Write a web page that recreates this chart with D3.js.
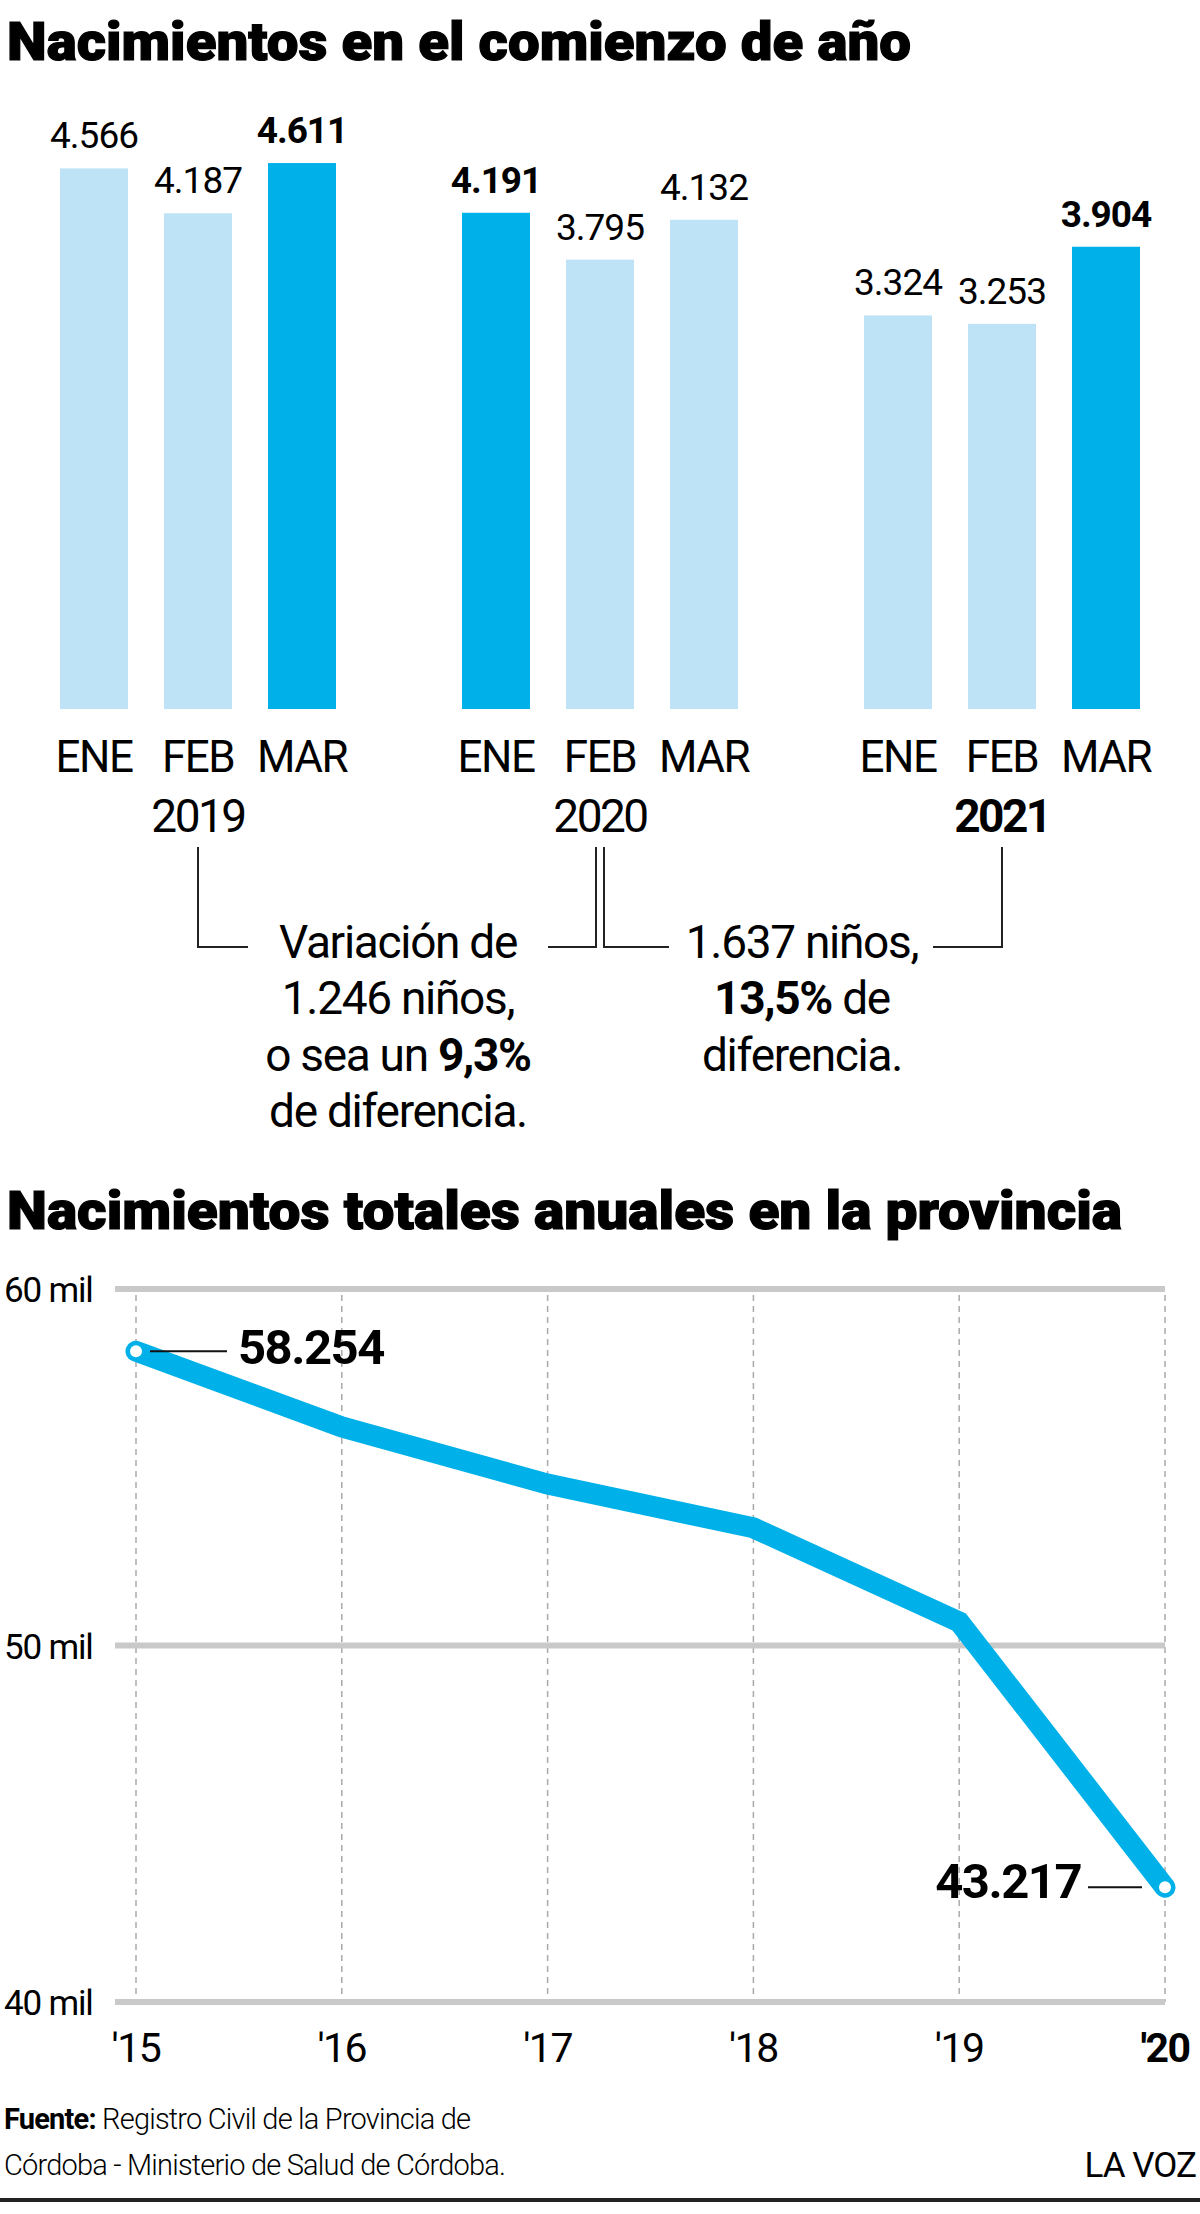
<!DOCTYPE html>
<html>
<head>
<meta charset="utf-8">
<script src="https://cdn.jsdelivr.net/npm/d3@7"></script>
<style>
  body { margin: 0; background: #fff; }
  svg { display: block; font-family: Roboto, "Noto Sans", sans-serif; }
</style>
</head>
<body>
<svg id="grafico" width="1200" height="2214"></svg>
<script>
// Datos: nacimientos por mes (primer trimestre)
var anios = ["2019", "2020", "2021"];
var meses = ["ENE", "FEB", "MAR"];
var nac2019 = [4566, 4187, 4611];
var nac2020 = [4191, 3795, 4132];
var nac2021 = [3324, 3253, 3904];
var destacados = [[2], [0], [2]]; // barras en azul fuerte

// Datos: nacimientos totales anuales
var aniosTot = ["'15", "'16", "'17", "'18", "'19", "'20"];
var nacTotales = [58254, 56130, 54530, 53300, 50660, 43217];
var ticksY = [40000, 50000, 60000];

var azul = "#00b1e9";
var celeste = "#bee3f7";

var svg = d3.select("#grafico");

// ---------- Titulo 1
svg.append("text")
  .attr("x", 7).attr("y", 60)
  .attr("font-size", 54).attr("font-weight", 900)
  .attr("stroke", "#000").attr("stroke-width", 1.2)
  .attr("textLength", 904).attr("lengthAdjust", "spacingAndGlyphs")
  .text("Nacimientos en el comienzo de año");

// ---------- Barras
var filas = anios.map(function (a, i) {
  return { anio: a, valores: [nac2019, nac2020, nac2021][i], dest: destacados[i] };
});

var x0 = d3.scaleBand().domain(anios).range([60, 1140]).paddingInner(0.3134).paddingOuter(0);
var x1 = d3.scaleBand().domain(meses).range([0, x0.bandwidth()]).paddingInner(0.346).paddingOuter(0);
var y = d3.scaleLinear().domain([0, 5000]).range([709, 117]);

var grupos = svg.selectAll(".grupo")
  .data(filas)
  .enter().append("g")
  .attr("class", "grupo")
  .attr("transform", function (d) { return "translate(" + x0(d.anio) + ",0)"; });

var celdas = grupos.selectAll(".mes")
  .data(function (d) {
    return meses.map(function (m, j) {
      return { mes: m, valor: d.valores[j], dest: d.dest.indexOf(j) >= 0 };
    });
  })
  .enter().append("g").attr("class", "mes");

celdas.append("rect")
  .attr("x", function (d) { return x1(d.mes); })
  .attr("y", function (d) { return y(d.valor); })
  .attr("width", x1.bandwidth())
  .attr("height", function (d) { return y(0) - y(d.valor); })
  .attr("fill", function (d) { return d.dest ? azul : celeste; });

celdas.append("text")
  .attr("x", function (d) { return x1(d.mes) + x1.bandwidth() / 2; })
  .attr("y", function (d) { return y(d.valor) - 20; })
  .attr("text-anchor", "middle")
  .attr("font-size", 37)
  .attr("font-weight", function (d) { return d.dest ? 700 : 400; })
  .attr("letter-spacing", -1)
  .text(function (d) { return d3.format(",")(d.valor).replace(",", "."); });

celdas.append("text")
  .attr("x", function (d) { return x1(d.mes) + x1.bandwidth() / 2; })
  .attr("y", 772)
  .attr("text-anchor", "middle")
  .attr("font-size", 44)
  .attr("letter-spacing", -1.5)
  .text(function (d) { return d.mes; });

grupos.append("text")
  .attr("x", x1("FEB") + x1.bandwidth() / 2)
  .attr("y", 832)
  .attr("text-anchor", "middle")
  .attr("font-size", 46)
  .attr("letter-spacing", -2.5)
  .attr("font-weight", function (d) { return d.anio === "2021" ? 700 : 400; })
  .text(function (d) { return d.anio; });

// ---------- Llaves de comparacion
var cx = function (a) { return x0(a) + x1("FEB") + x1.bandwidth() / 2; };
var yTop = 847, yLow = 947;
var llaves = [
  { desde: cx("2019"), hasta: cx("2020") - 4, izq: 248, der: 548 },
  { desde: cx("2020") + 4, hasta: cx("2021"), izq: 669, der: 933 }
];
llaves.forEach(function (l) {
  svg.append("path")
    .attr("d", "M" + l.desde + "," + yTop + "V" + yLow + "H" + l.izq +
      "M" + l.der + "," + yLow + "H" + l.hasta + "V" + yTop)
    .attr("fill", "none").attr("stroke", "#222").attr("stroke-width", 2);
});

var notas = [
  { x: 398, lineas: [[["Variación de", 0]], [["1.246 niños,", 0]], [["o sea un ", 0], ["9,3%", 1]], [["de diferencia.", 0]]] },
  { x: 802, lineas: [[["1.637 niños,", 0]], [["13,5%", 1], [" de", 0]], [["diferencia.", 0]]] }
];
notas.forEach(function (n) {
  n.lineas.forEach(function (linea, i) {
    var t = svg.append("text")
      .attr("x", n.x).attr("y", 958 + i * 56.3)
      .attr("text-anchor", "middle")
      .attr("font-size", 46)
      .attr("letter-spacing", -1.3);
    linea.forEach(function (s) {
      t.append("tspan").attr("font-weight", s[1] ? 700 : 400).text(s[0]);
    });
  });
});

// ---------- Titulo 2
svg.append("text")
  .attr("x", 7).attr("y", 1229)
  .attr("font-size", 54).attr("font-weight", 900)
  .attr("stroke", "#000").attr("stroke-width", 1.2)
  .attr("textLength", 1115).attr("lengthAdjust", "spacingAndGlyphs")
  .text("Nacimientos totales anuales en la provincia");

// ---------- Linea
var xl = d3.scalePoint().domain(aniosTot).range([136, 1165]);
var yl = d3.scaleLinear().domain([40000, 60000]).range([2002, 1289]);

svg.selectAll(".vguia")
  .data(aniosTot)
  .enter().append("line")
  .attr("class", "vguia")
  .attr("x1", function (d) { return xl(d); })
  .attr("x2", function (d) { return xl(d); })
  .attr("y1", yl(60000) + 6).attr("y2", yl(40000))
  .attr("stroke", "#aaa").attr("stroke-width", 1.5)
  .attr("stroke-dasharray", "6,5");

svg.selectAll(".hguia")
  .data(ticksY)
  .enter().append("line")
  .attr("class", "hguia")
  .attr("x1", 115).attr("x2", xl("'20"))
  .attr("y1", function (d) { return yl(d); })
  .attr("y2", function (d) { return yl(d); })
  .attr("stroke", "#c9c9c9").attr("stroke-width", 6);

svg.selectAll(".ylab")
  .data(ticksY)
  .enter().append("text")
  .attr("class", "ylab")
  .attr("x", 4)
  .attr("y", function (d) { return yl(d) + 13; })
  .attr("font-size", 35)
  .attr("letter-spacing", -1.2)
  .text(function (d) { return (d / 1000) + " mil"; });

var puntos = aniosTot.map(function (a, i) { return [a, nacTotales[i]]; });
var linea = d3.line()
  .x(function (d) { return xl(d[0]); })
  .y(function (d) { return yl(d[1]); });

svg.append("path")
  .datum(puntos)
  .attr("d", linea)
  .attr("fill", "none")
  .attr("stroke", azul)
  .attr("stroke-width", 21)
  .attr("stroke-linecap", "round")
  .attr("stroke-linejoin", "miter");

var extremos = [puntos[0], puntos[puntos.length - 1]];
svg.selectAll(".punto")
  .data(extremos)
  .enter().append("circle")
  .attr("class", "punto")
  .attr("cx", function (d) { return xl(d[0]); })
  .attr("cy", function (d) { return yl(d[1]); })
  .attr("r", 6)
  .attr("fill", "#fff");

// etiquetas de los extremos
var p0 = puntos[0], pN = puntos[puntos.length - 1];
svg.append("line")
  .attr("x1", xl(p0[0]) + 14).attr("x2", xl(p0[0]) + 91)
  .attr("y1", yl(p0[1])).attr("y2", yl(p0[1]))
  .attr("stroke", "#111").attr("stroke-width", 2);
svg.append("text")
  .attr("x", xl(p0[0]) + 102).attr("y", yl(p0[1]) + 13)
  .attr("font-size", 49).attr("font-weight", 700).attr("letter-spacing", -1.5)
  .text(d3.format(",")(p0[1]).replace(",", "."));

svg.append("line")
  .attr("x1", xl(pN[0]) - 77).attr("x2", xl(pN[0]) - 23)
  .attr("y1", yl(pN[1])).attr("y2", yl(pN[1]))
  .attr("stroke", "#111").attr("stroke-width", 2);
svg.append("text")
  .attr("x", xl(pN[0]) - 84).attr("y", yl(pN[1]) + 11)
  .attr("text-anchor", "end")
  .attr("font-size", 49).attr("font-weight", 700).attr("letter-spacing", -1.5)
  .text(d3.format(",")(pN[1]).replace(",", "."));

// eje x
svg.selectAll(".xlab")
  .data(aniosTot)
  .enter().append("text")
  .attr("class", "xlab")
  .attr("x", function (d) { return xl(d); })
  .attr("y", 2062)
  .attr("text-anchor", "middle")
  .attr("font-size", 41)
  .attr("letter-spacing", -1.5)
  .attr("font-weight", function (d, i) { return i === aniosTot.length - 1 ? 700 : 400; })
  .text(function (d) { return d; });

// ---------- Fuente
var f1 = svg.append("text").attr("x", 4).attr("y", 2129).attr("font-size", 29).attr("letter-spacing", -0.8);
f1.append("tspan").attr("font-weight", 700).text("Fuente:");
f1.append("tspan").attr("font-weight", 300).text(" Registro Civil de la Provincia de");
svg.append("text").attr("x", 4).attr("y", 2175).attr("font-size", 29).attr("font-weight", 300)
  .attr("letter-spacing", -0.8)
  .text("Córdoba - Ministerio de Salud de Córdoba.");
svg.append("text").attr("x", 1196).attr("y", 2177).attr("text-anchor", "end")
  .attr("font-size", 35).attr("letter-spacing", -1)
  .text("LA VOZ");

svg.append("line")
  .attr("x1", 0).attr("x2", 1200).attr("y1", 2200).attr("y2", 2200)
  .attr("stroke", "#222").attr("stroke-width", 4);
</script>
</body>
</html>
